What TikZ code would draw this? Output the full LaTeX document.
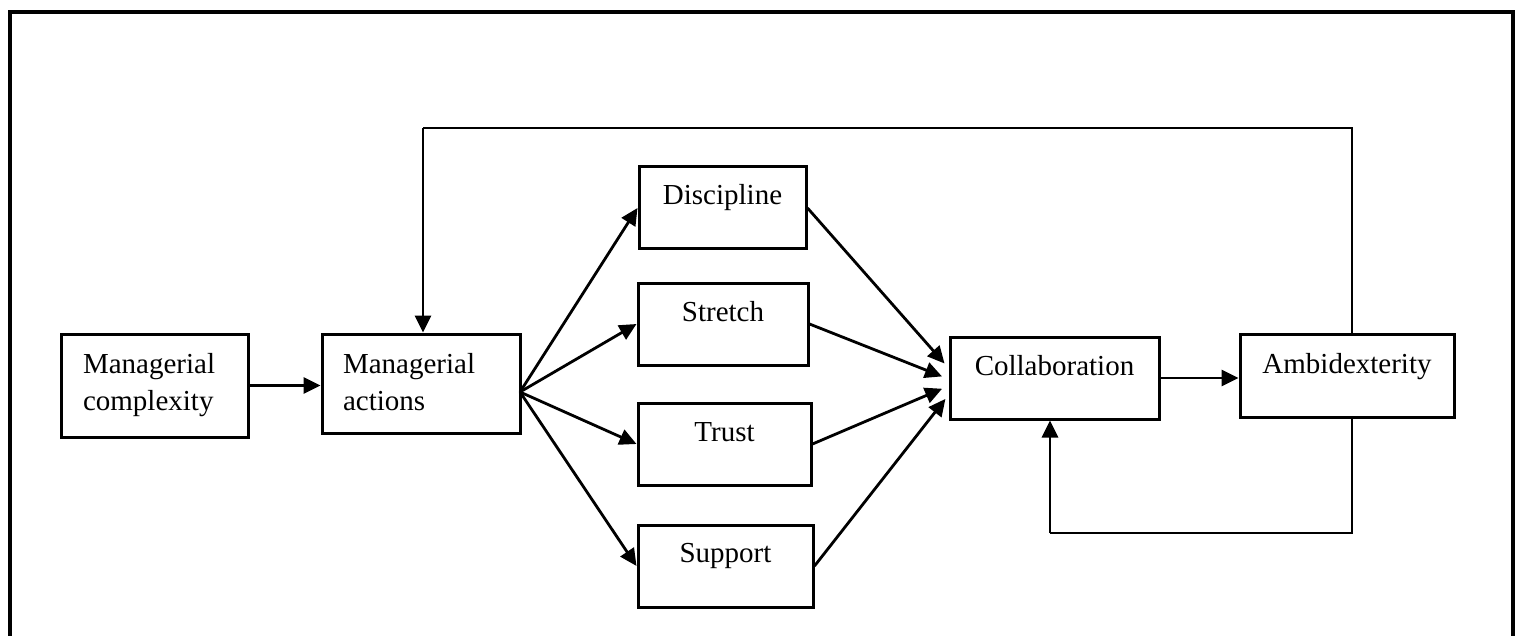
\documentclass[tikz,border=0pt]{standalone}
\usepackage{fontspec}
\setmainfont{Liberation Serif}
\usetikzlibrary{arrows.meta,calc}
\begin{document}
\begin{tikzpicture}[x=1pt,y=-1pt,
  box/.style={draw, line width=3pt, rectangle, inner ysep=0pt,
    font=\fontsize{29}{37}\selectfont},
  cbox/.style={box, inner xsep=0pt, align=center, text height=38pt, text depth=44pt},
  lbox/.style={box, align=left, text height=39pt},
  arr/.style={line width=2.8pt, -{Triangle[length=17pt,width=16pt]}},
  thin/.style={line width=1.5pt}]
\useasboundingbox (0,0) rectangle (1522,636);
\draw[line width=3.5pt] (10,12) rectangle (1513,660);

\node[lbox, inner xsep=22pt, text width=143pt, text depth=64pt] (mc) at (154.5,385.5) {Managerial\\complexity};
\node[lbox, inner xsep=21pt, text width=156pt, text depth=60pt] (ma) at (421,383.5) {Managerial\\actions};

\node[cbox, text width=167pt] (di) at (722.5,208) {Discipline};
\node[cbox, text width=170pt] (st) at (723,324) {Stretch};
\node[cbox, text width=173pt] (tr) at (724.5,444) {Trust};
\node[cbox, text width=175pt, text height=37pt, text depth=45pt] (su) at (725.5,566) {Support};
\node[cbox, text width=209pt] (co) at (1054.5,378) {Collaboration};
\node[cbox, text width=214pt, text height=39pt] (am) at (1347,375.5) {Ambidexterity};

\coordinate (fan) at (520,392);
\coordinate (tl) at (423,128);
\coordinate (trc) at (1352,128);
\coordinate (br) at (1352,533);
\coordinate (bl) at (1050,533);

\draw[arr] (mc.east) -- (mc.east -| ma.west);
\draw[arr] (fan) -- (di.west);
\draw[arr] (fan) -- (st.west);
\draw[arr] (fan) -- (tr.west);
\draw[arr] (fan) -- (su.west);

\draw[arr, shorten >=6pt] (di.east) -- ([yshift=10pt]co.west);
\draw[arr, shorten >=7pt] (st.east) -- ([yshift=-1pt]co.west);
\draw[arr, shorten >=7pt] (tr.east) -- ([yshift=-8pt]co.west);
\draw[arr, shorten >=5pt] (su.east) -- ([yshift=-17pt]co.west);

\draw[arr] (co.east) -- (co.east -| am.west);

\draw[thin] (trc |- am.north) -- (trc) -- (tl);
\draw[arr] (tl) -- (tl |- ma.north);
\draw[thin] (br |- am.south) -- (br) -- (bl);
\draw[arr] (bl) -- (bl |- co.south);
\end{tikzpicture}
\end{document}
